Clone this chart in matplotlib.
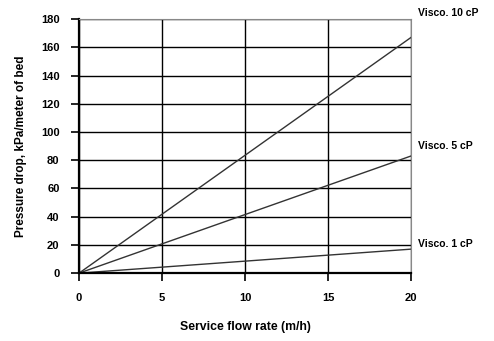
import numpy as np
import matplotlib.pyplot as plt

# flow rate (m/h) and pressure drop (kPa/m bed) at the end points
flow = [0, 20]
visco_10 = [0, 167]
visco_5 = [0, 83]
visco_1 = [0, 17]
labels = ['Visco. 10 cP', 'Visco. 5 cP', 'Visco. 1 cP']

x_ticks = [0, 5, 10, 15, 20]
y_ticks = list(range(0, 181, 20))

plt.rcParams['font.family'] = ['Liberation Sans Narrow', 'Liberation Sans', 'DejaVu Sans']

fig = plt.figure(figsize=(4.94, 3.41), dpi=100)
ax = fig.add_axes([0.160, 0.199, 0.672, 0.745])

for ys in (visco_10, visco_5, visco_1):
    ax.plot(flow, ys, color='#333333', lw=1.0)

ax.set_xlim(0, 20)
ax.set_ylim(0, 180)
ax.set_xticks(x_ticks)
ax.set_yticks(y_ticks)
ax.grid(True, color='black', lw=1.0)
ax.tick_params(direction='out', length=6, width=1.2, labelsize=8, pad=8)
for lab in ax.get_xticklabels() + ax.get_yticklabels():
    lab.set_fontweight('bold')
for side in ('left', 'bottom'):
    ax.spines[side].set_linewidth(1.6)
for side in ('top', 'right'):
    ax.spines[side].set_color('#888888')

ax.set_xlabel('Service flow rate (m/h)', fontsize=8.8, fontweight='bold', labelpad=13)
ax.set_ylabel('Pressure drop, kPa/meter of bed', fontsize=8.5, fontweight='bold', labelpad=10)

# series labels on the right
label_y = [184, 90, 21]
for lab, yv in zip(labels, label_y):
    ax.text(20.4, yv, lab, fontsize=7.5, fontweight='bold', ha='left', va='center',
            clip_on=False)

fig.savefig('out.png', dpi=100)
